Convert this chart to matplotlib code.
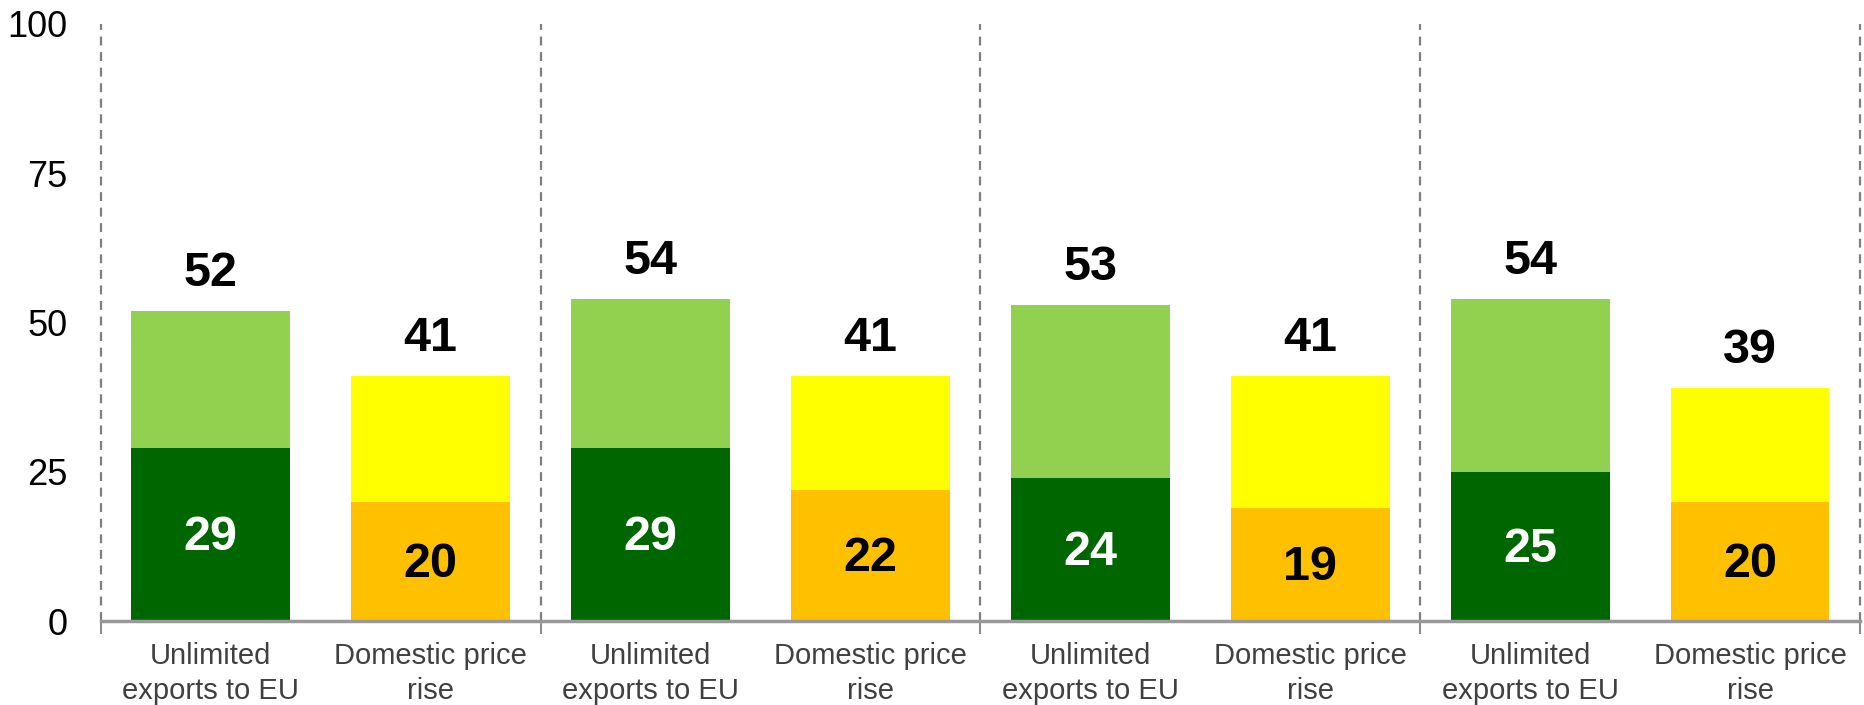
import numpy as np
from matplotlib import pyplot as plt

plt.rcParams['font.family'] = ['Liberation Sans', 'DejaVu Sans']

# Data
categories = ['Unlimited\nexports to EU', 'Domestic price\nrise'] * 4
totals = [52, 41, 54, 41, 53, 41, 54, 39]
inner = [29, 20, 29, 22, 24, 19, 25, 20]
yticks = [0, 25, 50, 75, 100]

dark_colors = ['#006600', '#FFC000'] * 4
light_colors = ['#92D050', '#FFFF00'] * 4
inner_text = ['white', 'black'] * 4

x = np.arange(len(categories))
upper = [t - i for t, i in zip(totals, inner)]

fig = plt.figure(figsize=(18.64, 7.05), dpi=100)
ax = fig.add_axes([0.054, 0.119, 0.944, 0.847])

ax.bar(x, inner, width=0.72, color=dark_colors, zorder=2)
ax.bar(x, upper, bottom=inner, width=0.72, color=light_colors, zorder=2)

for xi, t, i, c in zip(x, totals, inner, inner_text):
    ax.annotate(str(t), (xi, t), xytext=(0, 27), textcoords='offset points',
                ha='center', va='center', fontsize=35, fontweight='bold')
    ax.annotate(str(i), (xi, i / 2), xytext=(0, -2), textcoords='offset points',
                ha='center', va='center', fontsize=35, fontweight='bold', color=c)

# group dividers
dividers = [-0.5, 1.5, 3.5, 5.5, 7.5]
for d in dividers:
    ax.axvline(d, ymin=0, ymax=1, color='#7f7f7f', lw=1.6,
               linestyle=(0, (4, 3)), zorder=1, clip_on=False)

ax.set_xlim(-0.5, 7.5)
ax.set_ylim(0, 100)
ax.set_yticks(yticks)
ax.set_yticklabels([str(v) for v in yticks], fontsize=26)
ax.tick_params(axis='y', length=0, pad=24)

ax.set_xticks(x)
ax.set_xticklabels(categories, fontsize=21, color='#404040', linespacing=1.3)
ax.tick_params(axis='x', which='major', length=0, pad=15)
ax.set_xticks(dividers, minor=True)
ax.tick_params(axis='x', which='minor', length=9, width=1.5, color='#8c8c8c')

for s in ['top', 'right', 'left']:
    ax.spines[s].set_visible(False)
ax.spines['bottom'].set_color('#999999')
ax.spines['bottom'].set_linewidth(2.5)
ax.spines['bottom'].set_zorder(3)

fig.savefig('out.png', dpi=100)
